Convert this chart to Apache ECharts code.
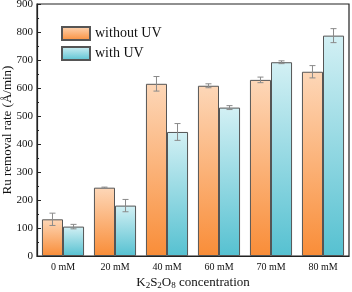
<!DOCTYPE html>
<html><head><meta charset="utf-8">
<script src="https://cdn.jsdelivr.net/npm/echarts@6/dist/echarts.min.js"></script>
<style>html,body{margin:0;padding:0;background:#fff}#c{width:352px;height:292px}</style>
</head><body><div id="c"></div>
<script>
const categories = ['0 mM','20 mM','40 mM','60 mM','70 mM','80 mM'];
const withoutUV = [131, 244, 615, 608, 629, 658];
const withoutUVErr = [22, 2, 26, 7, 10, 22];
const withUV = [105, 180, 443, 530, 692, 787];
const withUVErr = [8, 22, 30, 7, 5, 25];
const yTicks = [0,100,200,300,400,500,600,700,800,900];

const font = '"Liberation Serif","Times New Roman",serif';
function grad(top, bottom){
  return new echarts.graphic.LinearGradient(0,0,0,1,[{offset:0,color:top},{offset:1,color:bottom}]);
}
function errSeries(vals, errs, side){
  return {
    type:'custom', z:10, silent:true,
    data: vals.map((v,i)=>[i, v, errs[i]]),
    renderItem: function(params, api){
      const i = api.value(0), v = api.value(1), e = api.value(2);
      const band = api.size([1,0])[0];
      const bw = band*0.81/2;
      const c = api.coord([i, v]);
      const x = c[0] + side*bw/2;
      const yT = api.coord([i, v+e])[1];
      const yB = api.coord([i, v-e])[1];
      const cap = 3;
      const st = {stroke:'#8a8a8a', lineWidth:1};
      return {type:'group', children:[
        {type:'line', shape:{x1:x,y1:yT,x2:x,y2:yB}, style:st},
        {type:'line', shape:{x1:x-cap,y1:yT,x2:x+cap,y2:yT}, style:st},
        {type:'line', shape:{x1:x-cap,y1:yB,x2:x+cap,y2:yB}, style:st}
      ]};
    }
  };
}
const chart = echarts.init(document.getElementById('c'));
chart.setOption({
  animation:false,
  grid:{left:37, top:4, right:3, bottom:36, containLabel:false, outerBoundsMode:'none',
        show:true, borderColor:'#222', borderWidth:1.2, backgroundColor:'transparent'},
  legend:{
    orient:'vertical', left:56, top:21, itemWidth:28, itemHeight:13, itemGap:5, icon:'rect',
    textStyle:{fontFamily:font, fontSize:14, color:'#111'},
    data:['without UV','with UV']
  },
  xAxis:{
    type:'category', data:categories,
    axisLine:{lineStyle:{color:'#222', width:1.2}},
    axisTick:{show:false},
    axisLabel:{fontFamily:font, fontSize:10, color:'#111', margin:6},
    name:'{n|K}{s|2}{n|S}{s|2}{n|O}{s|8}{n| concentration}',
    nameLocation:'middle', nameGap:19, nameMoveOverlap:false,
    nameTextStyle:{rich:{
      n:{fontFamily:font, fontSize:13, color:'#111'},
      s:{fontFamily:font, fontSize:9, color:'#111', verticalAlign:'bottom', padding:[6,0,0,0]}
    }}
  },
  yAxis:{
    type:'value', min:0, max:900, interval:100,
    axisLine:{show:true, lineStyle:{color:'#222', width:1.2}},
    axisTick:{show:true, inside:true, length:4, lineStyle:{color:'#222'}},
    minorTick:{show:true, splitNumber:2, length:2, lineStyle:{color:'#222'}},
    splitLine:{show:false},
    axisLabel:{fontFamily:font, fontSize:11, color:'#111', margin:4,
      formatter: v => yTicks.includes(v) ? String(v) : ''},
    name:'Ru removal rate (Å/min)', nameLocation:'middle', nameGap:23, nameMoveOverlap:false,
    nameTextStyle:{fontFamily:font, fontSize:13, color:'#111'}
  },
  series:[
    {name:'without UV', type:'bar', data:withoutUV, barGap:'0%', barCategoryGap:'19%',
     itemStyle:{color:grad('#fdd7b8','#f98d38'), borderColor:'#555', borderWidth:1}},
    {name:'with UV', type:'bar', data:withUV,
     itemStyle:{color:grad('#d3f0f4','#56c1d1'), borderColor:'#555', borderWidth:1}},
    errSeries(withoutUV, withoutUVErr, -1),
    errSeries(withUV, withUVErr, 1)
  ]
});
</script></body></html>
